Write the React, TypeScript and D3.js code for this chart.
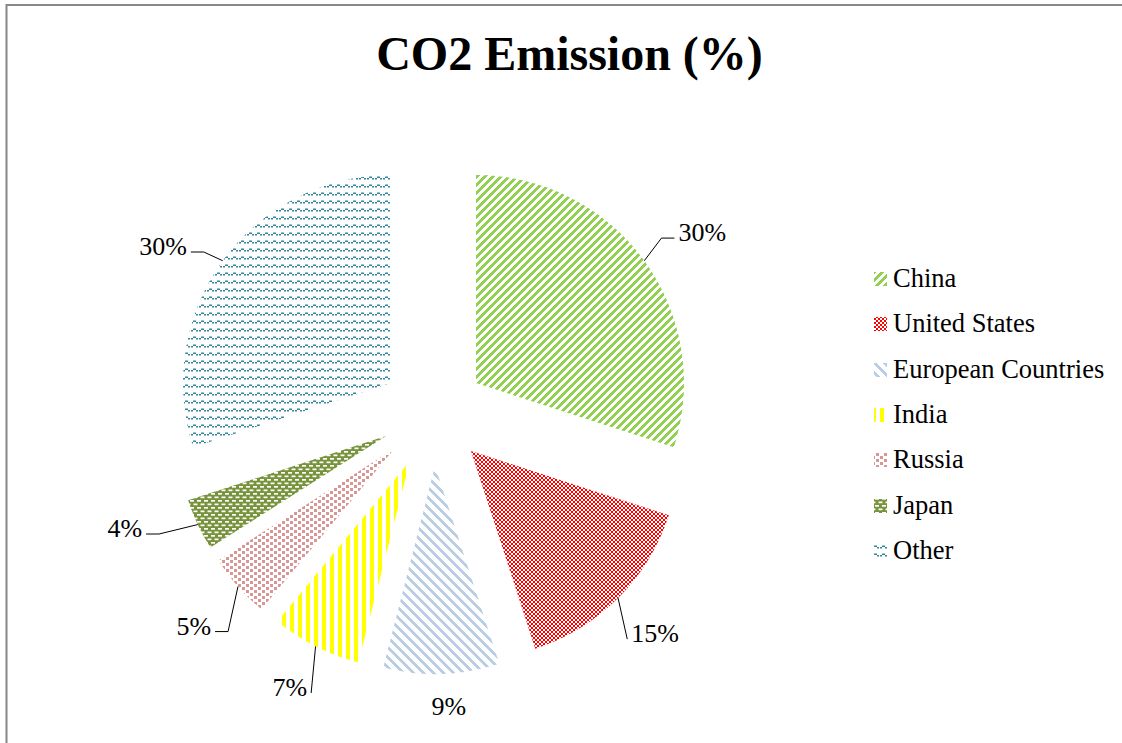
import React from 'react';
import * as d3 from 'd3';

// ---------- data ----------
const categories = ['China', 'United States', 'European Countries', 'India', 'Russia', 'Japan', 'Other'];
const values = [30, 15, 9, 7, 5, 4, 30];
const colors = ['#92D050', '#FF0000', '#B9CDE5', '#FFFF00', '#D99694', '#77933C', '#31859C'];
const title = 'CO2 Emission (%)';

// ---------- layout ----------
const W = 1122;
const H = 743;
const cx = 433.5;
const cy = 414;
const R = 208;
const EXPLODE = 52.5;
const FONT = "'Liberation Serif', 'Times New Roman', 'DejaVu Serif', serif";
const LABEL_SIZE = 26;
// per-slice label placement: extra radius beyond arc, angle nudge (deg)
const labelLayout = [
  { extra: 64, nudge: 2.3 },
  { extra: 51, nudge: -0.3 },
  { extra: 32, nudge: -1.5 },
  { extra: 48, nudge: 1 },
  { extra: 59, nudge: 0 },
  { extra: 69, nudge: 5.8 },
  { extra: 58, nudge: -5 },
];
const legendX = 874;
const legendY0 = 279;
const legendStep = 45.3;

type R4 = { x: number; y: number; w: number; h: number };

function diagRects(P: number, run: number, dir: 'up' | 'down'): R4[] {
  const out: R4[] = [];
  for (let y = 0; y < P; y++) {
    const s = dir === 'down' ? y % P : (P - y) % P;
    if (s + run <= P) out.push({ x: s, y, w: run, h: 1 });
    else {
      out.push({ x: s, y, w: P - s, h: 1 });
      out.push({ x: 0, y, w: s + run - P, h: 1 });
    }
  }
  return out;
}

function Patterns() {
  const china = diagRects(8, 4, 'up');
  const europe = diagRects(10, 4, 'down');
  return (
    <defs>
      <pattern id="pat0" width={8} height={8} patternUnits="userSpaceOnUse">
        {china.map((r, i) => (
          <rect key={i} x={r.x} y={r.y} width={r.w} height={r.h} fill={colors[0]} />
        ))}
      </pattern>
      <pattern id="pat1" width={4} height={4} patternUnits="userSpaceOnUse">
        <rect x={0} y={0} width={2} height={2} fill={colors[1]} />
        <rect x={2} y={2} width={2} height={2} fill={colors[1]} />
      </pattern>
      <pattern id="pat2" width={10} height={10} patternUnits="userSpaceOnUse">
        {europe.map((r, i) => (
          <rect key={i} x={r.x} y={r.y} width={r.w} height={r.h} fill={colors[2]} />
        ))}
      </pattern>
      <pattern id="pat3" width={8} height={8} patternUnits="userSpaceOnUse">
        <rect x={0} y={0} width={4} height={8} fill={colors[3]} />
      </pattern>
      <pattern id="pat4" width={8} height={6} patternUnits="userSpaceOnUse">
        <rect x={0} y={0} width={3} height={3} fill={colors[4]} />
        <rect x={4} y={3} width={3} height={3} fill={colors[4]} />
      </pattern>
      <pattern id="pat5" width={7} height={7} patternUnits="userSpaceOnUse">
        <rect x={0} y={0} width={7} height={7} fill={colors[5]} />
        <rect x={0} y={1} width={4} height={1.7} fill="#fff" />
        <rect x={3.5} y={4.5} width={4} height={1.7} fill="#fff" />
        <rect x={-3.5} y={4.5} width={4} height={1.7} fill="#fff" />
      </pattern>
      <pattern id="pat6" width={8} height={8} patternUnits="userSpaceOnUse">
        <rect x={0} y={3} width={2} height={1.5} fill={colors[6]} />
        <rect x={2} y={1.5} width={3} height={1.5} fill={colors[6]} />
        <rect x={5} y={3} width={2} height={1.5} fill={colors[6]} />
      </pattern>
    </defs>
  );
}

export default function App() {
  const pie = d3.pie<number>().sort(null).value((d) => d)(values);
  const arc = d3.arc<d3.PieArcDatum<number>>().innerRadius(0).outerRadius(R);

  const slices = pie.map((p, i) => {
    const mid = (p.startAngle + p.endAngle) / 2;
    const vx = Math.round(cx + EXPLODE * Math.sin(mid));
    const vy = Math.round(cy - EXPLODE * Math.cos(mid));
    const lay = labelLayout[i];
    const la = mid + (lay.nudge * Math.PI) / 180;
    const lr = R + lay.extra;
    const lx = vx + lr * Math.sin(la);
    const ly = vy - lr * Math.cos(la);
    const text = `${values[i]}%`;
    const tw = LABEL_SIZE * (0.5 * String(values[i]).length + 0.833);
    const right = lx > vx;
    let leader: string | null = null;
    if (lay.extra > 40) {
      const sx = vx + R * Math.sin(mid);
      const sy = vy - R * Math.cos(mid);
      const ex = right ? lx - tw / 2 - 4 : lx + tw / 2 + 4;
      const ey = ly + 6;
      const elx = right ? ex - 13 : ex + 13;
      const pts: [number, number][] =
        Math.abs(sx - ex) < 12 ? [[sx, sy], [ex, ey]] : [[sx, sy], [elx, ey], [ex, ey]];
      leader = d3.line()(pts);
    }
    return { p, i, vx, vy, lx, ly, text, leader };
  });

  return (
    <svg
      width={W}
      height={H}
      style={{ position: 'absolute', left: 0, top: 0, display: 'block', background: '#fff' }}
    >
      <Patterns />
      <rect x={0} y={0} width={W} height={H} fill="#fff" />
      <rect x={6.5} y={5} width={1300} height={900} fill="none" stroke="#878787" strokeWidth={2} />
      <text x={569.5} y={70} textAnchor="middle" fontFamily={FONT} fontSize={48} fontWeight="bold" fill="#000">
        {title}
      </text>
      {slices.map((s) => (
        <g key={s.i} transform={`translate(${s.vx},${s.vy})`}>
          <path d={arc(s.p) || ''} fill={`url(#pat${s.i})`} />
        </g>
      ))}
      {slices.map((s) => (
        <g key={'l' + s.i}>
          {s.leader && <path d={s.leader} fill="none" stroke="#000" strokeWidth={1} />}
          <text x={s.lx} y={s.ly + 9} textAnchor="middle" fontFamily={FONT} fontSize={LABEL_SIZE} fill="#000">
            {s.text}
          </text>
        </g>
      ))}
      {categories.map((c, i) => {
        const y = legendY0 + i * legendStep;
        return (
          <g key={'g' + c}>
            <rect x={legendX} y={Math.round(y - 7)} width={13} height={14} fill={`url(#pat${i})`} />
            <text x={893} y={y + 8} fontFamily={FONT} fontSize={26.5} fill="#000">
              {c}
            </text>
          </g>
        );
      })}
    </svg>
  );
}
